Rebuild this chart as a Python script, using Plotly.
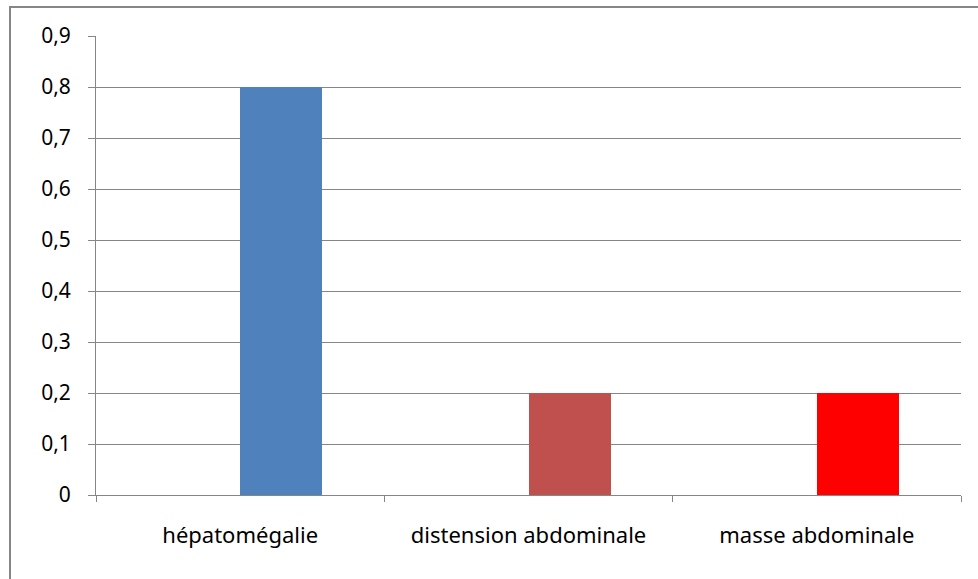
import plotly.graph_objects as go

categories = ["hépatomégalie", "distension abdominale", "masse abdominale"]
values = [0.8, 0.2, 0.2]
colors = ["#4F81BD", "#C0504D", "#FF0000"]
y_ticks = [0, 0.1, 0.2, 0.3, 0.4, 0.5, 0.6, 0.7, 0.8, 0.9]

W, H = 978, 579
ml, mr, mt, mb = 96, 17, 36, 84
pw, ph = W - ml - mr, H - mt - mb

fig = go.Figure()
fig.add_trace(go.Bar(
    x=categories, y=values,
    marker=dict(color=colors, line=dict(width=0)),
    width=0.285, offset=0,
    showlegend=False, hoverinfo="skip",
))

font = dict(family="Noto Sans, Open Sans, sans-serif", size=21, color="#000000")
xfont = dict(family="Noto Sans, Open Sans, sans-serif", size=22, color="#000000")

fig.update_layout(
    width=W, height=H,
    margin=dict(l=ml, r=mr, t=mt, b=mb, pad=0),
    paper_bgcolor="white", plot_bgcolor="white",
    separators=", ",
    font=font,
    bargap=0,
    xaxis=dict(
        range=[-0.5, len(categories) - 0.5],
        showgrid=False, showline=True, linecolor="#868686", linewidth=1,
        ticks="outside", ticklen=6, tickcolor="#868686", tickson="boundaries",
        ticklabelstandoff=21, tickfont=xfont, zeroline=False,
    ),
    yaxis=dict(
        range=[0, 0.9], tickvals=y_ticks, showgrid=True, gridcolor="#868686", gridwidth=1,
        showline=True, linecolor="#868686", linewidth=1,
        ticks="outside", ticklen=7, tickcolor="#868686",
        ticklabelstandoff=13, tickfont=font, zeroline=False,
    ),
    shapes=[dict(
        type="rect", xref="paper", yref="paper",
        x0=(10 - ml) / pw, x1=(W + 20 - ml) / pw,
        y0=-(H + 20 - mt - ph) / ph, y1=1 + (mt - 7) / ph,
        line=dict(color="#868686", width=2), fillcolor="rgba(0,0,0,0)", layer="below",
    )],
)

fig.write_html(
    "out.html",
    config={"displayModeBar": False},
    post_script="document.body.style.margin='0';document.body.style.overflow='hidden';",
)
